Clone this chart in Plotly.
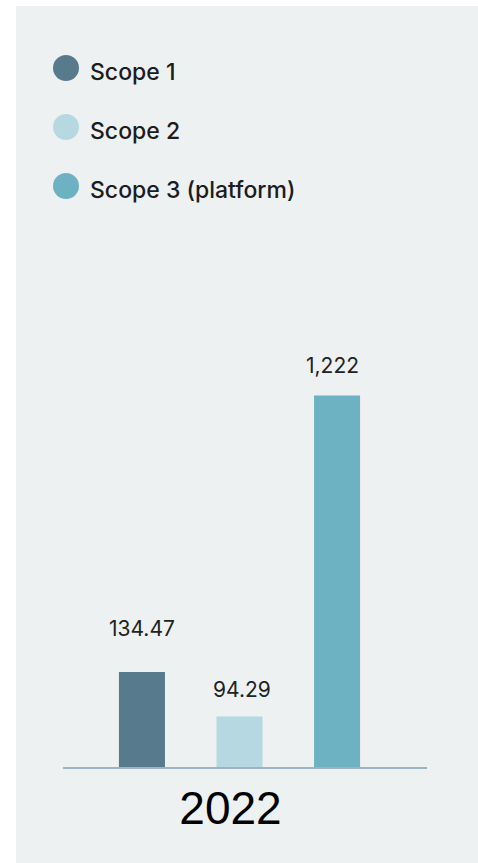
import numpy as np
import plotly.graph_objects as go

# Data
years = ["2022"]
series_names = ["Scope 1", "Scope 2", "Scope 3 (platform)"]
scope_values = [134.47, 94.29, 1222]
value_labels = ["134.47", "94.29", "1,222"]

# Styling
series_colors = ["#577B8C", "#B6D8E0", "#6DB2C2"]
panel_color = "#EDF1F2"
axis_color = "#9BB4C0"
text_color = "#222222"
label_lift = [35, 19, 22]      # px between bar top and label baseline
label_nudge = [0, 2.5, -4.5]   # px horizontal fine-tuning of value labels

W, H = 478, 863
L, R, T, B = 63, 51, 280, 96
PW, PH = W - L - R, H - T - B

BARGAP = 0.196
BARGROUPGAP = 0.528
PX_PER_DECADE = 288.5
Y_MIN = 1.7995
Y_MAX = Y_MIN + PH / PX_PER_DECADE
X_RANGE = [-0.4849, 0.5151]


def px_x(px):
    return (px - L) / PW


def px_y(py):
    return (H - B - py) / PH


fig = go.Figure()
for name, val, col in zip(series_names, scope_values, series_colors):
    fig.add_trace(go.Bar(
        x=years, y=[val], name=name, marker=dict(color=col, line=dict(width=0)),
        showlegend=False, hoverinfo="skip",
    ))

# value labels above each bar (x given as the category index of the year)
slot_px = PW * (1 - BARGAP) / len(series_names)
label_font = dict(family="Inter, Lato, sans-serif", size=21, color=text_color)
for i, (val, txt) in enumerate(zip(scope_values, value_labels)):
    fig.add_annotation(
        x=years.index("2022"), y=np.log10(val), xref="x", yref="y",
        text=txt, showarrow=False, font=label_font,
        xanchor="center", yanchor="bottom",
        xshift=(i - 1) * slot_px + label_nudge[i],
        yshift=label_lift[i] - 6,
    )

# panel background
shapes = [dict(
    type="rect", xref="paper", yref="paper", layer="below",
    x0=px_x(16), x1=px_x(W + 5), y0=px_y(H + 5), y1=px_y(6),
    fillcolor=panel_color, line=dict(width=0),
)]

# legend: circle markers with labels
legend_rows = [68, 127, 186]
for name, col, cy in zip(series_names, series_colors, legend_rows):
    shapes.append(dict(
        type="circle", xref="paper", yref="paper", layer="above",
        x0=px_x(53), x1=px_x(79), y0=px_y(cy + 13), y1=px_y(cy - 13),
        fillcolor=col, line=dict(width=0),
    ))
    fig.add_annotation(
        x=px_x(88), y=px_y(cy + 4), xref="paper", yref="paper",
        text=name, showarrow=False, xanchor="left", yanchor="middle",
        font=dict(family="Inter, Lato, sans-serif", size=23, color="#1c1c1c", weight=500),
    )

fig.update_layout(
    width=W, height=H,
    margin=dict(l=L, r=R, t=T, b=B, pad=0),
    paper_bgcolor="#FFFFFF",
    plot_bgcolor="rgba(0,0,0,0)",
    barmode="group", bargap=BARGAP, bargroupgap=BARGROUPGAP,
    shapes=shapes,
    showlegend=False,
    xaxis=dict(
        type="category", range=X_RANGE, showgrid=False, zeroline=False,
        showline=True, linecolor=axis_color, linewidth=2, ticks="",
        tickfont=dict(family="Liberation Sans, Arial, sans-serif", size=46, color="#000000"),
        ticklabelshift=-9, fixedrange=True,
    ),
    yaxis=dict(
        type="log", range=[Y_MIN, Y_MAX], visible=False, showgrid=False,
        zeroline=False, fixedrange=True,
    ),
)

fig.write_html("out.html", config={"displayModeBar": False})
